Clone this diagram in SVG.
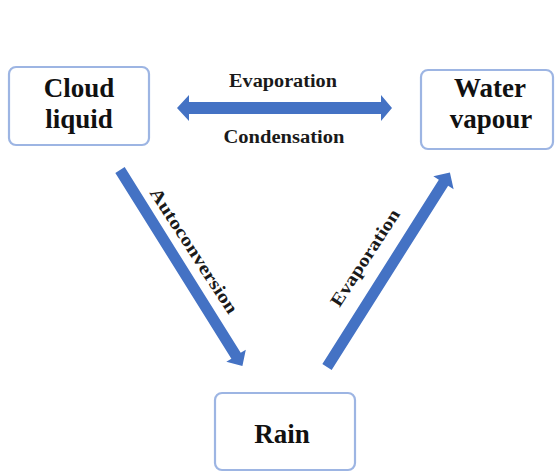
<svg xmlns="http://www.w3.org/2000/svg" width="555" height="472" viewBox="0 0 555 472">
  <style>
    .box { fill: #ffffff; stroke: #9db5e3; stroke-width: 2.2; }
    .node { font-family: "Liberation Serif", "Times New Roman", serif; font-weight: bold; font-size: 27px; fill: #111111; text-anchor: middle; }
    .lbl { font-family: "Liberation Serif", "Times New Roman", serif; font-weight: bold; font-size: 18px; fill: #1a1a1a; text-anchor: middle; }
    .arrow { fill: #4472c4; }
  </style>
  <rect width="555" height="472" fill="#ffffff"/>

  <g id="cloud-liquid">
    <rect class="box" x="9" y="67" width="140" height="78" rx="7"/>
    <text class="node" x="79" y="97">Cloud</text>
    <text class="node" x="79" y="128">liquid</text>
  </g>

  <g id="water-vapour">
    <rect class="box" x="421" y="70" width="132" height="79" rx="7"/>
    <text class="node" x="490" y="97">Water</text>
    <text class="node" x="491" y="128">vapour</text>
  </g>

  <g id="rain">
    <rect class="box" x="215" y="393" width="140" height="77" rx="7"/>
    <text class="node" x="282" y="443">Rain</text>
  </g>

  <g id="connectors">
    <polygon class="arrow" points="177,108 189,95 189,102 381,102 381,95 392,108 381,121 381,114 189,114 189,121"/>
    <polygon class="arrow" transform="translate(120,170) rotate(58)" points="0,-5.5 219,-5.5 219,-11.5 231,0 219,11.5 219,5.5 0,5.5"/>
    <polygon class="arrow" transform="translate(327,367) rotate(-57.7)" points="0,-5.5 218,-5.5 218,-12 230,0 218,12 218,5.5 0,5.5"/>
    <text class="lbl" x="283" y="87" textLength="108" lengthAdjust="spacingAndGlyphs">Evaporation</text>
    <text class="lbl" x="284" y="143" textLength="121" lengthAdjust="spacingAndGlyphs">Condensation</text>
    <text class="lbl" font-size="17" transform="translate(189,254) rotate(57)" x="0" y="0" textLength="146" lengthAdjust="spacingAndGlyphs">Autoconversion</text>
    <text class="lbl" font-size="17" transform="translate(370,261) rotate(-57)" x="0" y="0" textLength="112" lengthAdjust="spacingAndGlyphs">Evaporation</text>
  </g>
</svg>
